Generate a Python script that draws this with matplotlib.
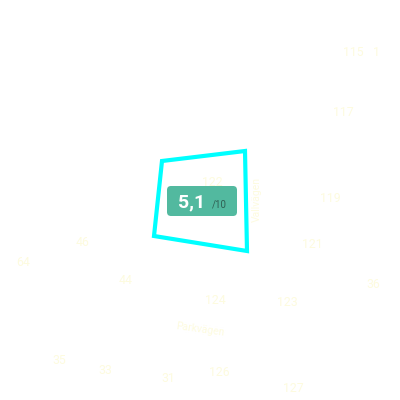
import matplotlib
matplotlib.use("Agg")
import matplotlib.pyplot as plt
from matplotlib.patches import FancyBboxPatch, Polygon

# House-number labels (map coordinates in pixels of the 400x400 view)
house_numbers = ["115", "1", "117", "122", "119", "46", "64", "44", "121", "36",
                 "124", "123", "35", "33", "31", "126", "127"]
house_x = [353, 376, 343, 212, 330, 83, 23, 126, 312, 373, 215, 287, 59, 105, 168, 219, 293]
house_y = [53, 53, 113, 182, 198, 242, 263, 281, 244, 284, 301, 302, 360, 371, 378, 373, 388]

# Street names
street_names = ["Vallvägen", "Parkvägen"]
street_x = [257, 200]
street_y = [199, 329]
street_rot = [90, -8]

# Parcel outline
parcel_x = [162, 245, 247, 154]
parcel_y = [161, 151, 251, 236]

# Score
score = "5,1"
score_max = "/10"

fig = plt.figure(figsize=(4, 4), dpi=100)
ax = fig.add_axes([0, 0, 1, 1])
ax.set_xlim(0, 400)
ax.set_ylim(400, 0)
ax.axis("off")
fig.patch.set_facecolor("white")

label_color = "#fdfbdf"
for t, x, y in zip(house_numbers, house_x, house_y):
    ax.text(x, y, t, ha="center", va="center", fontsize=8.8,
            color=label_color, family="Roboto", zorder=1)
for t, x, y, r in zip(street_names, street_x, street_y, street_rot):
    ax.text(x, y, t, ha="center", va="center", fontsize=7.5, rotation=r,
            color=label_color, family="Roboto", zorder=1)

poly = Polygon(list(zip(parcel_x, parcel_y)), closed=True, fill=False,
               edgecolor="#00ffff", linewidth=3, joinstyle="miter", zorder=2)
ax.add_patch(poly)

badge = FancyBboxPatch((169, 188), 66, 26, boxstyle="round,pad=2,rounding_size=4",
                       facecolor="#52b99f", edgecolor="none", zorder=3)
ax.add_patch(badge)
ax.text(205, 207, score, ha="right", va="baseline", fontsize=14, fontweight="bold",
        color="white", family="Roboto", zorder=4)
ax.text(212, 207, score_max, ha="left", va="baseline", fontsize=7,
        color="#2f5f52", family="Roboto", zorder=4)

fig.savefig("out.png", dpi=100, facecolor="white")
